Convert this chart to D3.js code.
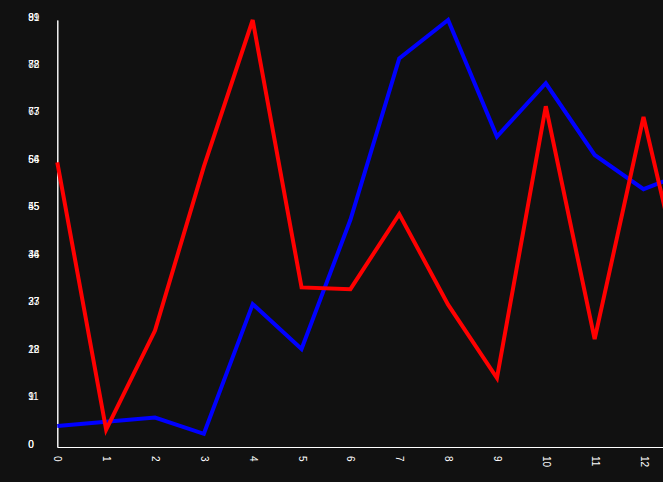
<!DOCTYPE html>
<html>
<head>
<meta charset="utf-8">
<script src="https://cdn.jsdelivr.net/npm/d3@7"></script>
<style>
  html, body { margin: 0; padding: 0; background: #111111; overflow: hidden; }
  #chart { width: 663px; height: 482px; }
  text { font-family: "Liberation Sans", Arial, sans-serif; font-size: 10px; fill: #ffffff; }
</style>
</head>
<body>
<div id="chart"></div>
<script>
"use strict";

// index along x (the last point runs off the right edge)
var xValues = [0, 1, 2, 3, 4, 5, 6, 7, 8, 9, 10, 11, 12, 13];
var xTicks = [0, 1, 2, 3, 4, 5, 6, 7, 8, 9, 10, 11, 12];
var redValues = [66, 4, 27, 65, 99, 37, 36.6, 54, 33, 16, 79, 25, 76.5, 28];
var blueValues = [4, 4.8, 5.6, 2.5, 27.1, 18.6, 43.1, 73.7, 81, 58.9, 69, 55.4, 48.9, 52.5];
var redTicks = [0, 11, 22, 33, 44, 55, 66, 77, 88, 99];
var blueTicks = [0, 9, 18, 27, 36, 45, 54, 63, 72, 81];

var width = 663;
var height = 482;
var plotLeft = 57.3;
var plotBottom = 447;
var plotTop = 20;

var svg = d3.select("#chart")
  .append("svg")
  .attr("width", width)
  .attr("height", height);

var x = d3.scaleLinear().domain([0, 13]).range([plotLeft, plotLeft + 13 * 48.85]);
var yRed = d3.scaleLinear().domain([0, 99]).range([plotBottom, plotTop]);
var yBlue = d3.scaleLinear().domain([0, 81]).range([plotBottom, plotTop]);

function drawYAxis(scale, ticks) {
  var g = svg.append("g")
    .attr("transform", "translate(" + plotLeft + ",0)")
    .call(d3.axisLeft(scale).tickValues(ticks).tickSize(0).tickFormat(d3.format("d")));
  g.select(".domain").attr("stroke", "#ffffff");
  g.selectAll("text")
    .attr("text-anchor", "start")
    .attr("x", -29)
    .attr("dy", "0")
    .attr("fill", "#ffffff");
}

drawYAxis(yRed, redTicks);
drawYAxis(yBlue, blueTicks);

var xAxis = svg.append("g")
  .attr("transform", "translate(0," + plotBottom + ")")
  .call(d3.axisBottom(x).tickValues(xTicks).tickSize(0).tickSizeOuter(0).tickFormat(d3.format("d")));
xAxis.select(".domain").attr("stroke", "#ffffff");
xAxis.selectAll("text")
  .attr("fill", "#ffffff")
  .attr("y", 0)
  .attr("x", 9)
  .attr("dy", "0.35em")
  .attr("text-anchor", "start")
  .attr("transform", "rotate(90)");

function drawLine(values, scale, color) {
  var line = d3.line()
    .x(function(d, i) { return x(xValues[i]); })
    .y(function(d) { return scale(d); });
  svg.append("path")
    .datum(values)
    .attr("d", line)
    .attr("fill", "none")
    .attr("stroke", color)
    .attr("stroke-width", 4);
}

drawLine(blueValues, yBlue, "#0000ff");
drawLine(redValues, yRed, "#ff0000");
</script>
</body>
</html>
